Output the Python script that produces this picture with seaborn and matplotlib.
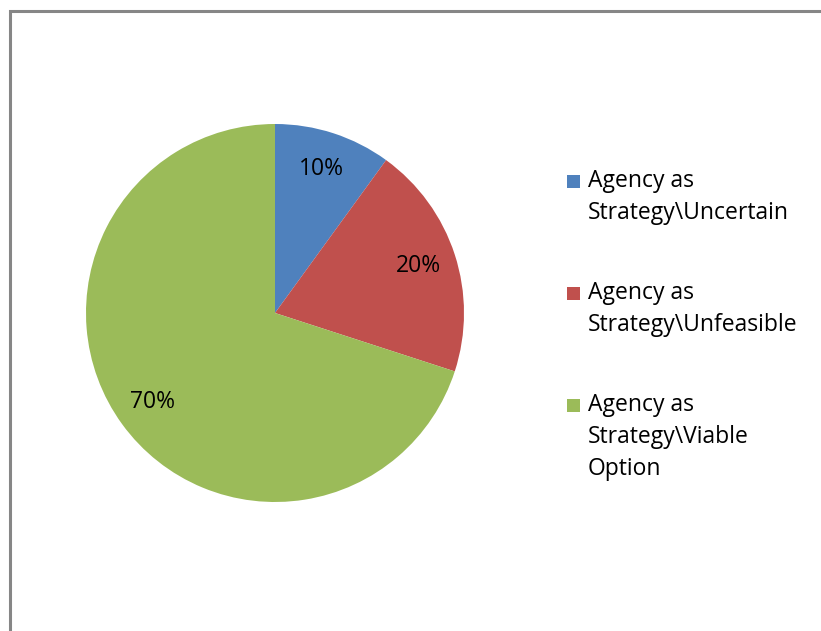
import matplotlib
matplotlib.use("Agg")
import matplotlib.pyplot as plt
import matplotlib.patches as mpatches
import seaborn as sns

sns.set_theme(style="white")
plt.rcParams["font.family"] = ["Open Sans", "DejaVu Sans"]

categories = ["Agency as\nStrategy\\Uncertain",
              "Agency as\nStrategy\\Unfeasible",
              "Agency as\nStrategy\\Viable\nOption"]
shares = [10, 20, 70]
colors = ["#4F81BD", "#C0504D", "#9BBB59"]

W, H = 821, 631
fig = plt.figure(figsize=(W / 100, H / 100), dpi=100)

# pie centred at (275, 313) px, radius 189 px
cx, cy, r = 275, 313, 189
ax = fig.add_axes([(cx - r) / W, (H - cy - r) / H, 2 * r / W, 2 * r / H])
wedges, _, autotexts = ax.pie(shares, colors=colors, startangle=90, counterclock=False,
                              autopct="%d%%", pctdistance=0.8,
                              wedgeprops=dict(linewidth=0),
                              textprops=dict(fontsize=16.5, color="black"))
ax.set_xlim(-1, 1)
ax.set_ylim(-1, 1)
ax.set_aspect("equal")

# legend: square aligned with first line of each label
entry_top, entry_step, line_step = 181, 112, 32
for i, (label, color) in enumerate(zip(categories, colors)):
    y0 = entry_top + i * entry_step
    fig.patches.append(mpatches.Rectangle((567 / W, 1 - (y0 + 7) / H), 13 / W, 13 / H,
                                          transform=fig.transFigure,
                                          facecolor=color, edgecolor="none"))
    for j, line in enumerate(label.split("\n")):
        fig.text(588 / W, 1 - (y0 + j * line_step) / H, line,
                 fontsize=16.5, va="center", ha="left", color="black")

# outer chart frame (cropped at right and bottom)
frame = mpatches.Rectangle((9.5 / W, -0.1), 1.2, (H - 10.5) / H + 0.1,
                           transform=fig.transFigure, fill=False,
                           edgecolor="#868686", linewidth=2.2, clip_on=False)
fig.patches.append(frame)

fig.savefig("out.png", dpi=100)
